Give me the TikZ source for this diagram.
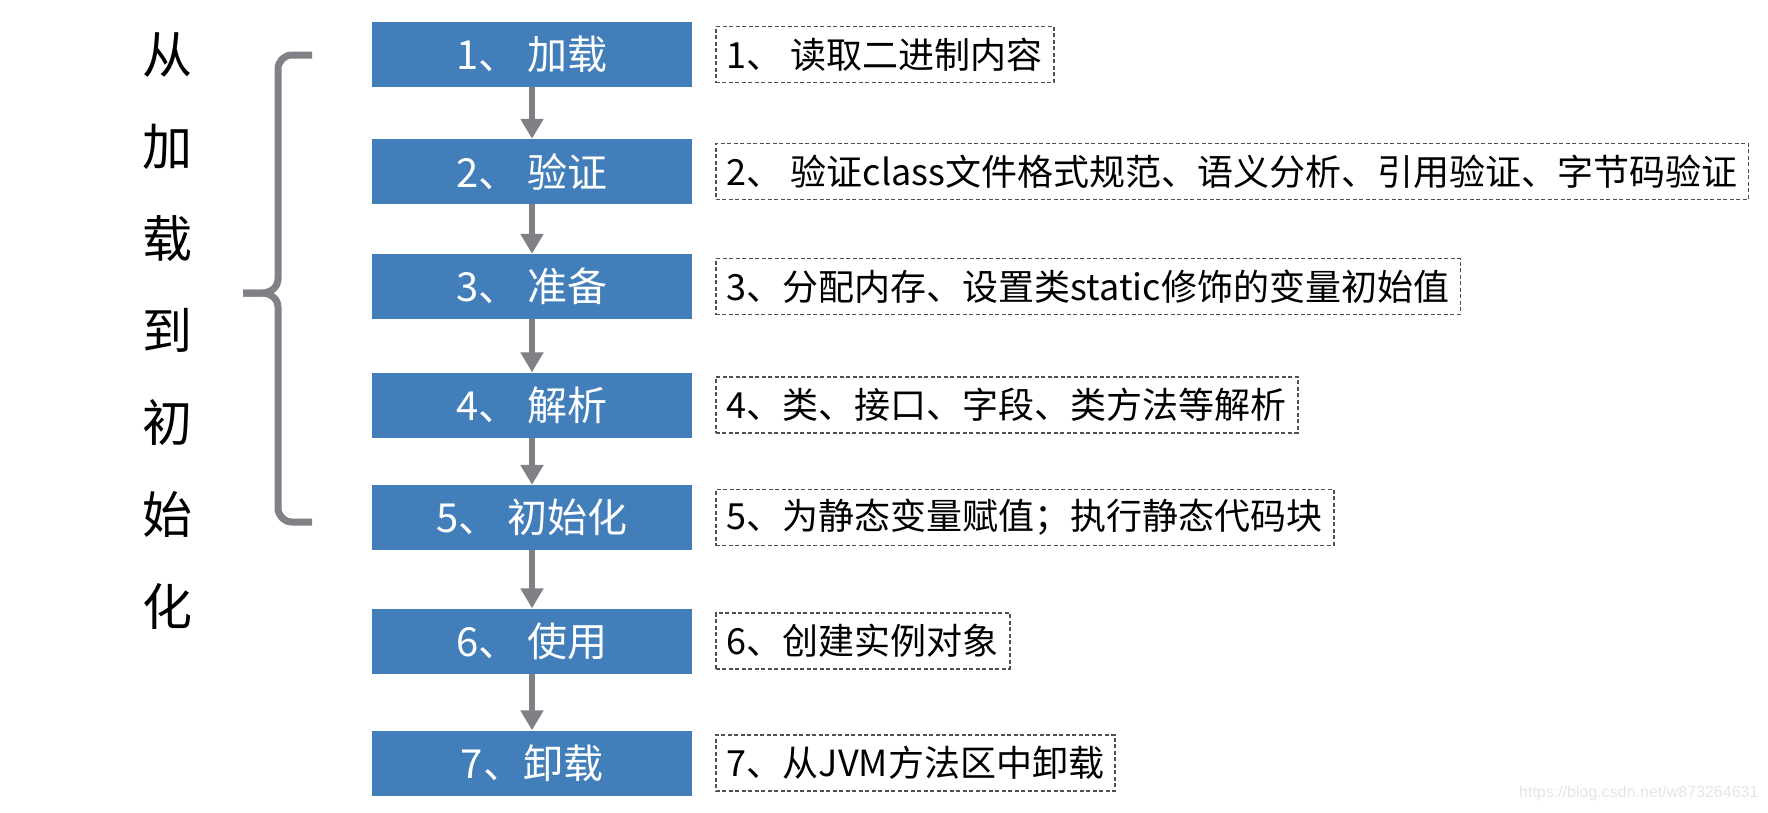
\documentclass[tikz,border=0pt]{standalone}
\usepackage{fontspec}
\newfontfamily\cjk{Noto Sans CJK SC}
\newfontfamily\wmfont{Liberation Sans}
\usetikzlibrary{arrows.meta,positioning}
\definecolor{stageblue}{RGB}{66,126,186}
\definecolor{flowgray}{RGB}{128,128,134}
\definecolor{notegray}{RGB}{80,80,80}
\tikzset{
  stage/.style={fill=stageblue, text=white, minimum width=320pt, minimum height=65pt,
    inner sep=0pt, font=\cjk\fontsize{40}{48}\selectfont},
  note/.style={draw=notegray, line width=1.4pt, dash pattern=on 4pt off 2.5pt,
    minimum height=56pt, inner xsep=11pt, inner ysep=0pt, font=\cjk\fontsize{36}{42}\selectfont},
  flow/.style={draw=flowgray, line width=6pt, -{Triangle[width=22pt,length=20pt]}},
  brace/.style={draw=flowgray, line width=7pt, line join=round}
}
\begin{document}
\begin{tikzpicture}[x=1pt,y=-1pt]
  \useasboundingbox (0,0) rectangle (1768,812);

  % vertical caption and brace
  \node [font=\cjk\fontsize{50}{92}\selectfont, align=center] (caption) at (167,331)
    {从\\加\\载\\到\\初\\始\\化};
  \draw [brace] (312,55) -- (292,55) to[out=180,in=90] (278,69) -- (278,279)
    to[out=-90,in=0] (262,293) -- (243,293);
  \draw [brace] (243,293) -- (262,293) to[out=0,in=90] (278,307) -- (278,508)
    to[out=-90,in=180] (292,522) -- (312,522);

  % stages
  \node [stage] (s1) at (532,54.5) {1、 加载};
  \node [stage] (s2) at (532,171.5) {2、 验证};
  \node [stage] (s3) at (532,286.5) {3、 准备};
  \node [stage] (s4) at (532,405) {4、 解析};
  \node [stage] (s5) at (532,517.5) {5、 初始化};
  \node [stage] (s6) at (532,641) {6、 使用};
  \node [stage] (s7) at (532,763) {7、卸载};

  % notes
  \node [note, right=23pt of s1] (n1) {1、 读取二进制内容};
  \node [note, right=23pt of s2] (n2) {2、 验证class文件格式规范、语义分析、引用验证、字节码验证};
  \node [note, right=23pt of s3] (n3) {3、分配内存、设置类static修饰的变量初始值};
  \node [note, right=23pt of s4] (n4) {4、类、接口、字段、类方法等解析};
  \node [note, right=23pt of s5] (n5) {5、为静态变量赋值；执行静态代码块};
  \node [note, right=23pt of s6] (n6) {6、创建实例对象};
  \node [note, right=23pt of s7] (n7) {7、从JVM方法区中卸载};

  \foreach \a/\b in {s1/s2,s2/s3,s3/s4,s4/s5,s5/s6,s6/s7}
    \draw [flow] (\a) -- (\b);

  \node [font=\wmfont\fontsize{16}{18}\selectfont, text=black!10, anchor=east] (wmark)
    at (1762,793) {https://blog.csdn.net/w873264631};

\end{tikzpicture}
\end{document}
